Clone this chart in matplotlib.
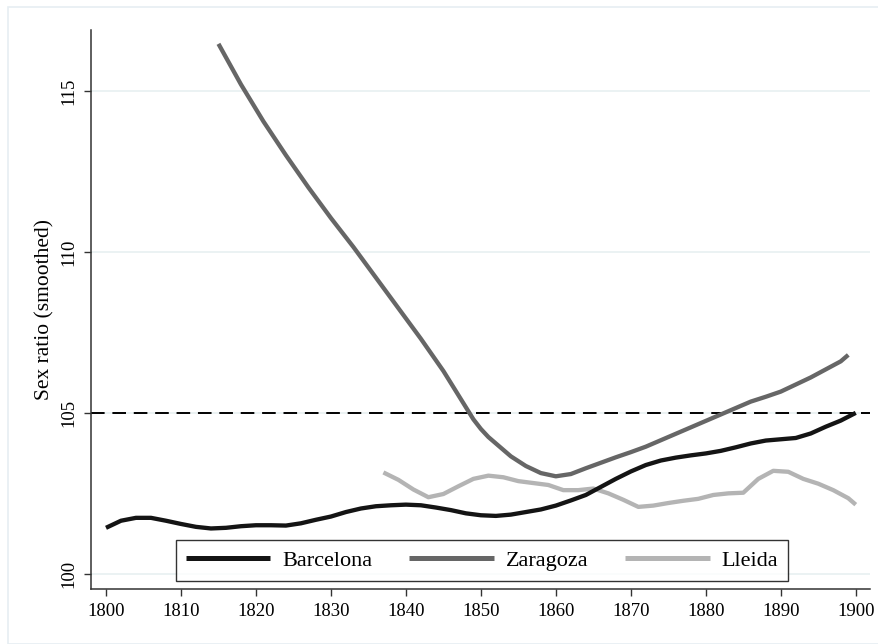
import matplotlib
matplotlib.use("Agg")
import matplotlib.pyplot as plt
from matplotlib.patches import Rectangle

plt.rcParams['font.family'] = ['Liberation Serif', 'DejaVu Serif']

barcelona_years = [1800, 1802, 1804, 1806, 1808, 1810, 1812, 1814, 1816, 1818, 1820, 1822, 1824,
                   1826, 1828, 1830, 1832, 1834, 1836, 1838, 1840, 1842, 1844, 1846, 1848, 1850,
                   1852, 1854, 1856, 1858, 1860, 1862, 1864, 1866, 1868, 1870, 1872, 1874, 1876,
                   1878, 1880, 1882, 1884, 1886, 1888, 1890, 1892, 1894, 1896, 1898, 1900]
barcelona_vals = [101.43, 101.65, 101.74, 101.74, 101.65, 101.55, 101.46, 101.41, 101.43, 101.48,
                  101.51, 101.51, 101.50, 101.57, 101.68, 101.78, 101.92, 102.03, 102.10, 102.13,
                  102.15, 102.13, 102.06, 101.98, 101.88, 101.82, 101.80, 101.84, 101.92, 102.00,
                  102.12, 102.28, 102.45, 102.70, 102.95, 103.18, 103.38, 103.52, 103.61, 103.68,
                  103.74, 103.82, 103.93, 104.05, 104.14, 104.18, 104.22, 104.36, 104.57, 104.76,
                  105.0]

zaragoza_years = [1815, 1818, 1821, 1824, 1827, 1830, 1833, 1836, 1839, 1842, 1845, 1847, 1849,
                  1850, 1851, 1852, 1854, 1856, 1858, 1860, 1862, 1864, 1866, 1868, 1870, 1872,
                  1874, 1876, 1878, 1880, 1882, 1884, 1886, 1888, 1890, 1892, 1894, 1896, 1898,
                  1899]
zaragoza_vals = [116.46, 115.20, 114.05, 113.00, 112.00, 111.05, 110.15, 109.20, 108.25, 107.30,
                 106.30, 105.55, 104.80, 104.50, 104.25, 104.05, 103.65, 103.35, 103.13, 103.03,
                 103.10, 103.28, 103.45, 103.62, 103.78, 103.95, 104.15, 104.35, 104.55, 104.75,
                 104.95, 105.15, 105.35, 105.50, 105.66, 105.88, 106.10, 106.35, 106.60, 106.80]

lleida_years = [1837, 1839, 1841, 1843, 1845, 1847, 1849, 1851, 1853, 1855, 1857, 1859, 1861,
                1863, 1865, 1867, 1869, 1871, 1873, 1875, 1877, 1879, 1881, 1883, 1885, 1887,
                1889, 1891, 1893, 1895, 1897, 1899, 1900]
lleida_vals = [103.15, 102.92, 102.62, 102.38, 102.48, 102.72, 102.95, 103.05, 103.00, 102.88,
               102.82, 102.76, 102.60, 102.60, 102.65, 102.50, 102.30, 102.08, 102.12, 102.20,
               102.27, 102.33, 102.45, 102.50, 102.52, 102.95, 103.20, 103.17, 102.95, 102.80,
               102.60, 102.35, 102.15]

x_ticks = [1800, 1810, 1820, 1830, 1840, 1850, 1860, 1870, 1880, 1890, 1900]
y_ticks = [100, 105, 110, 115]
reference_level = 105

fig = plt.figure(figsize=(8.79, 6.44), dpi=100)
fig.patches.append(Rectangle((8 / 879, 0), 1 - 8 / 879, 1 - 7 / 644, transform=fig.transFigure,
                             fill=False, edgecolor='#e6eef2', linewidth=1.2))
ax = fig.add_axes([91 / 879, 55 / 644, (870 - 91) / 879, (589 - 30) / 644])

for y in y_ticks:
    ax.axhline(y, color='#e8f0f1', linewidth=1.2, zorder=0)
ax.axhline(reference_level, color='black', linewidth=1.4, dashes=(7, 4), zorder=1)

ax.plot(barcelona_years, barcelona_vals, color='#141414', linewidth=3.1, label='Barcelona',
        solid_capstyle='butt', zorder=4)
ax.plot(zaragoza_years, zaragoza_vals, color='#666666', linewidth=3.1, label='Zaragoza',
        solid_capstyle='butt', zorder=3)
ax.plot(lleida_years, lleida_vals, color='#b4b4b4', linewidth=3.1, label='Lleida',
        solid_capstyle='butt', zorder=2)

ax.set_xlim(1798, 1901.9)
ax.set_ylim(99.53, 116.89)
ax.set_xticks(x_ticks)
ax.set_yticks(y_ticks)
ax.set_xticklabels([str(v) for v in x_ticks], fontsize=13.5)
ax.set_yticklabels([str(v) for v in y_ticks], fontsize=13.5, rotation=90, va='center')
ax.tick_params(axis='both', direction='out', length=5, width=1, color='#333333', pad=5)
for s in ['top', 'right']:
    ax.spines[s].set_visible(False)
for s in ['left', 'bottom']:
    ax.spines[s].set_color('#333333')
    ax.spines[s].set_linewidth(1.1)
ax.set_ylabel('Sex ratio (smoothed)', fontsize=15.5, labelpad=4)

leg = ax.legend(loc='lower center', bbox_to_anchor=(0.502, 0.0143), ncol=3, fontsize=16,
                frameon=True, fancybox=False, edgecolor='black', handlelength=3.8,
                columnspacing=1.65, handletextpad=0.55, borderpad=0.45, borderaxespad=0)
leg.get_frame().set_linewidth(1.0)
for line in leg.get_lines():
    line.set_linewidth(3.6)
leg.set_zorder(10)

fig.savefig('out.png', dpi=100)
